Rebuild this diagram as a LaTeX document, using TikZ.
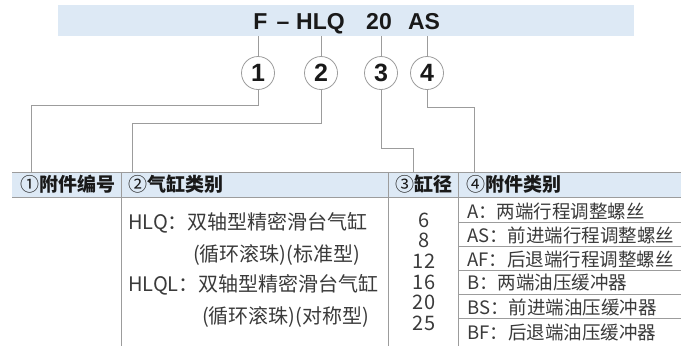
\documentclass[tikz,border=0pt]{standalone}
\usepackage{fontspec}
\setmainfont{Liberation Sans}
\newfontfamily\cjk{Noto Sans CJK SC}
\definecolor{bandblue}{HTML}{DDE9F5}
\definecolor{linegray}{HTML}{9C9C9C}
\definecolor{txt}{HTML}{3A3A3A}
\begin{document}
\begin{tikzpicture}[x=1pt,y=-1pt,
 conn/.style={draw=linegray,line width=0.9pt},
 circ/.style={circle,draw=linegray,line width=0.8pt,minimum size=33pt,inner sep=0pt,font=\bfseries\fontsize{25}{25}\selectfont,text=black!90},
 code/.style={anchor=base,font=\bfseries\fontsize{23}{23}\selectfont,text=black!90,inner sep=0pt},
 head/.style={anchor=west,inner sep=0pt,font=\cjk\fontsize{19}{19}\selectfont,text=black!90},
 body/.style={anchor=west,inner sep=0pt,font=\cjk\fontsize{20}{20}\selectfont,text=txt},
 acc/.style={anchor=west,inner sep=0pt,font=\cjk\fontsize{18.5}{18.5}\selectfont,text=txt},
 num/.style={inner sep=0pt,font=\cjk\fontsize{20}{20}\selectfont,text=txt},
 grid/.style={draw=linegray,line width=0.8pt}]
\useasboundingbox (0,0) rectangle (688,346);
% top bar
\fill[bandblue] (58,5) rectangle (634,36);
\node[code] (tF) at (260.5,29) {F};
\node[code] (tD) at (283,29) {\char"2013};
\node[code,anchor=base west] (tH) at (296,29) {HLQ};
\node[code] (t20) at (379,29) {20};
\node[code] (tAS) at (424,29) {AS};
\coordinate (t1) at (258,36);
\coordinate (t2) at (321,36);
\coordinate (t3) at (381,36);
\coordinate (t4) at (427,36);
% circles
\node[circ] (c1) at (258,73) {1};
\node[circ] (c2) at (321,73) {2};
\node[circ] (c3) at (381,73) {3};
\node[circ] (c4) at (427,73) {4};
% table header band
\fill[bandblue] (12,172) rectangle (681,197);
\draw[grid] (12,172) -- (681,172);
\draw[grid] (12,197) -- (681,197);
\draw[grid] (121,172) -- (121,346);
\draw[grid] (388,172) -- (388,346);
\draw[grid] (458,172) -- (458,346);
\foreach \yy in {222,246,270,294,318} \draw[grid] (458,\yy) -- (681,\yy);
% connector ends
\coordinate (h1) at (31,172);
\coordinate (h2) at (132,172);
\coordinate (h3) at (413,172);
\coordinate (h4) at (474,172);
\draw[conn] (t1) -- (c1.north);
\draw[conn] (t2) -- (c2.north);
\draw[conn] (t3) -- (c3.north);
\draw[conn] (t4) -- (c4.north);
\draw[conn] (c1.south) -- ++(0,16) -| (h1);
\draw[conn] (c2.south) -- ++(0,34) -| (h2);
\draw[conn] (c3.south) -- ++(0,59) -| (h3);
\draw[conn] (c4.south) -- ++(0,18) -| (h4);
% header texts
\node[head] (hd1) at (20,184.5) {①{\bfseries 附件编号}};
\node[head] (hd2) at (128,184.5) {②{\bfseries 气缸类别}};
\node[head] (hd3) at (395,184.5) {③{\bfseries 缸径}};
\node[head] (hd4) at (466,184.5) {④{\bfseries 附件类别}};
% column 2
\node[body] (b1) at (128,223) {HLQ：双轴型精密滑台气缸};
\node[body] (b2) at (193,255) {(循环滚珠)(标准型)};
\node[body] (b3) at (128,285) {HLQL：双轴型精密滑台气缸};
\node[body] (b4) at (202,317) {(循环滚珠)(对称型)};
% column 3
\node[num] (n1) at (424,220) {6};
\node[num] (n2) at (424,240.5) {8};
\node[num] (n3) at (424,261) {12};
\node[num] (n4) at (424,282) {16};
\node[num] (n5) at (424,302.5) {20};
\node[num] (n6) at (424,323) {25};
% column 4
\node[acc] (a1) at (467,211) {A：两端行程调整螺丝};
\node[acc] (a2) at (467,235) {AS：前进端行程调整螺丝};
\node[acc] (a3) at (467,259) {AF：后退端行程调整螺丝};
\node[acc] (a4) at (467,283) {B：两端油压缓冲器};
\node[acc] (a5) at (467,307) {BS：前进端油压缓冲器};
\node[acc] (a6) at (467,332) {BF：后退端油压缓冲器};
\end{tikzpicture}
\end{document}
